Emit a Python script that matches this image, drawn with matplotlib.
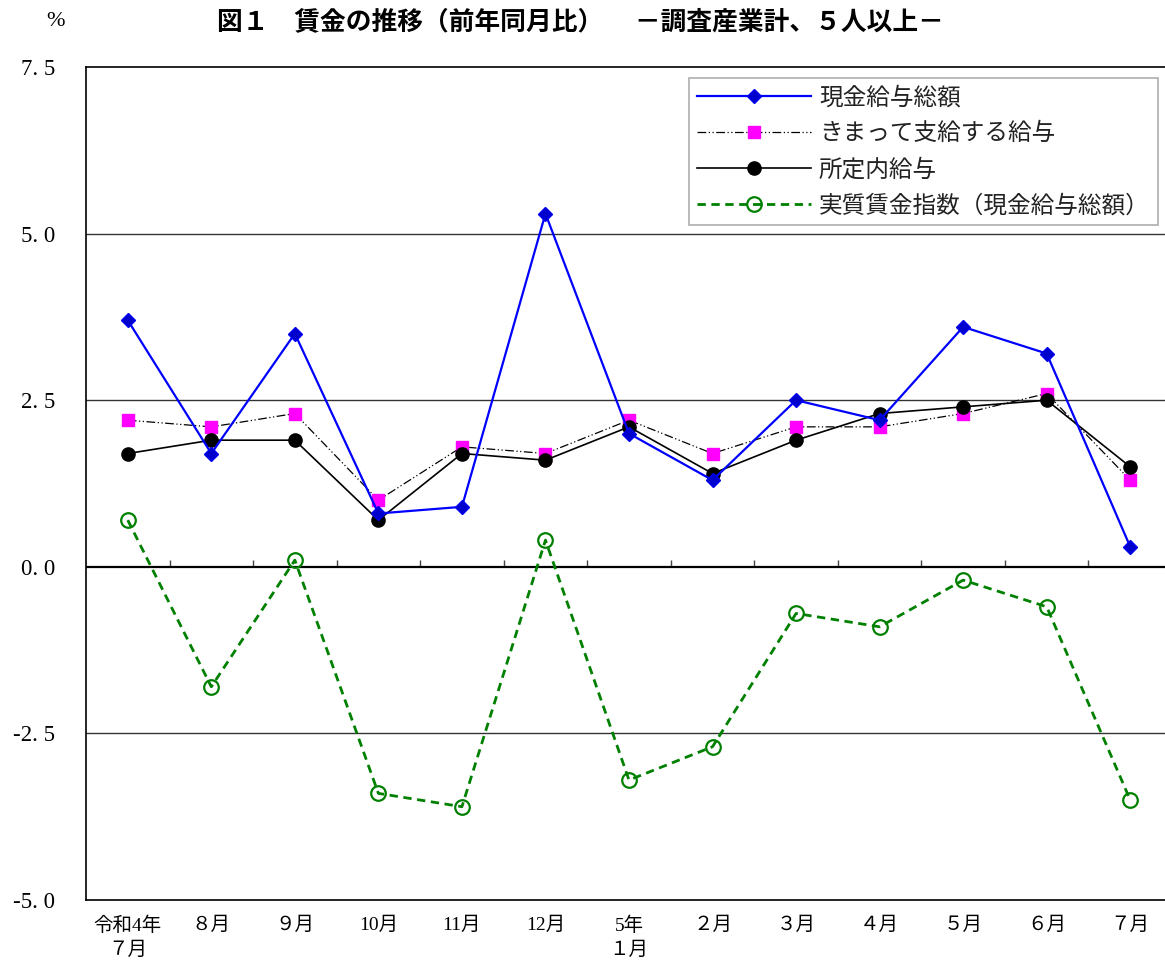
import matplotlib
matplotlib.use("Agg")
import matplotlib.pyplot as plt
from matplotlib.ticker import FixedLocator, NullFormatter

plt.rcParams['font.family'] = ['Liberation Serif', 'Noto Sans CJK JP']

# data (percent change from previous year)
months = ['令和4年\n７月', '８月', '９月', '10月', '11月', '12月', '5年\n１月',
          '２月', '３月', '４月', '５月', '６月', '７月']
total_cash = [3.7, 1.7, 3.5, 0.8, 0.9, 5.3, 2.0, 1.3, 2.5, 2.2, 3.6, 3.2, 0.3]
contractual = [2.2, 2.1, 2.3, 1.0, 1.8, 1.7, 2.2, 1.7, 2.1, 2.1, 2.3, 2.6, 1.3]
scheduled = [1.7, 1.9, 1.9, 0.7, 1.7, 1.6, 2.1, 1.4, 1.9, 2.3, 2.4, 2.5, 1.5]
real_wage = [0.7, -1.8, 0.1, -3.4, -3.6, 0.4, -3.2, -2.7, -0.7, -0.9, -0.2, -0.6, -3.5]
yticks = [-5.0, -2.5, 0.0, 2.5, 5.0, 7.5]

title = '図１　賃金の推移（前年同月比）　 －調査産業計、５人以上－'
labels = ['現金給与総額', 'きまって支給する給与', '所定内給与', '実質賃金指数（現金給与総額）']

fig = plt.figure(figsize=(11.65, 9.61), dpi=100)
ax = fig.add_axes([86 / 1165, 1 - 900 / 961, (1172 - 86) / 1165, (900 - 67) / 961])

x = list(range(len(months)))

ax.plot(x, total_cash, color='#0000ff', lw=1.6, marker='D', ms=7,
        mfc='#0000cc', mec='#0000ee', label=labels[0], zorder=5)
ax.plot(x, contractual, color='black', lw=0.9, ls=(0, (7, 2, 1, 2, 1, 2)),
        marker='s', ms=9, mfc='#ff00ff', mec='#ff00ff', label=labels[1], zorder=4)
ax.plot(x, scheduled, color='black', lw=1.2, marker='o', ms=9.5,
        mfc='black', mec='black', label=labels[2], zorder=4)
ax.plot(x, real_wage, color='#008000', lw=2, ls=(0, (3, 2)), marker='o', ms=10.5,
        mfc='none', mec='#008000', mew=1.6, label=labels[3], zorder=4)

ax.set_xlim(-0.5, len(months) - 0.5)
ax.set_ylim(-5, 7.5)

# horizontal grid lines and the zero line
for v in yticks[1:-1]:
    ax.axhline(v, color='#333333' if v != 0 else 'black', lw=1 if v != 0 else 1.6, zorder=1)

ax.set_yticks(yticks)
ax.set_yticklabels([f'{v:.1f}'.replace('.', '. ') for v in yticks], fontsize=16.5)
ax.tick_params(axis='y', length=0, pad=22)

ax.set_xticks(x)
ax.set_xticklabels(months, fontsize=14, linespacing=1.45)
ax.tick_params(axis='x', length=0, pad=12)

# small tick marks between months on the zero line
zero_ax = ax.secondary_xaxis(5 / 12.5)
zero_ax.xaxis.set_major_locator(FixedLocator([i + 0.5 for i in x[:-1]]))
zero_ax.xaxis.set_major_formatter(NullFormatter())
zero_ax.tick_params(direction='in', length=5, width=1, color='#444444')
zero_ax.spines['bottom'].set_visible(False)
zero_ax.spines['top'].set_visible(False)

for s in ax.spines.values():
    s.set_linewidth(1.2)

leg = ax.legend(loc='upper right', bbox_to_anchor=(1158 / 1165, 1 - 78 / 961),
                bbox_transform=fig.transFigure, fontsize=17, frameon=True,
                fancybox=False, edgecolor='#999999', handlelength=4.8,
                borderpad=0.35, labelspacing=0.55, handletextpad=0.35,
                borderaxespad=0)
leg.get_frame().set_linewidth(1.2)
for t in leg.get_texts():
    t.set_family(['Noto Sans CJK JP'])
    t.set_color('#222222')

fig.text(580 / 1165, 1 - 22 / 961, title, ha='center', va='center',
         fontsize=18.5, fontweight='bold', family=['Noto Sans CJK JP'])
fig.text(55 / 1165, 1 - 22 / 961, '%', ha='center', va='center', fontsize=16)

fig.savefig('out.png', dpi=100)
